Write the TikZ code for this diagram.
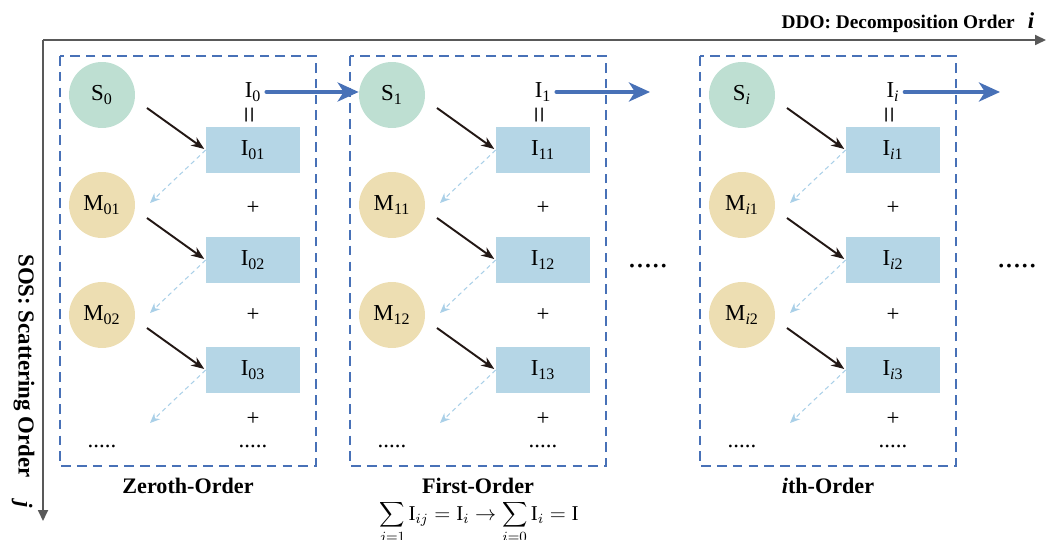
\documentclass[tikz,border=0pt]{standalone}
\usepackage{fontspec}
\usepackage{graphicx}
\setmainfont{Liberation Serif}
\usetikzlibrary{arrows.meta,calc,positioning}
\definecolor{AxisGray}{RGB}{89,89,89}
\definecolor{FrameBlue}{RGB}{72,113,183}
\definecolor{SourceGreen}{RGB}{190,223,210}
\definecolor{MedSand}{RGB}{237,222,178}
\definecolor{TermBlue}{RGB}{181,214,230}
\definecolor{BackBlue}{RGB}{170,208,232}
\definecolor{PathBlack}{RGB}{35,24,21}
\newcommand{\dotrow}{.....}
\tikzset{
  lbl/.style={font=\fontsize{13}{15}\selectfont,inner sep=0pt},
  srcnode/.style={lbl,circle,fill=SourceGreen,minimum size=1.32cm},
  mednode/.style={lbl,circle,fill=MedSand,minimum size=1.32cm},
  termbox/.style={lbl,rectangle,fill=TermBlue,minimum width=1.88cm,minimum height=0.92cm},
  ordframe/.style={draw=FrameBlue,line width=1.4pt,dash pattern=on 5.5pt off 3.5pt},
  scatarrow/.style={-{Stealth[length=2.6mm,width=2mm]},line width=1.1pt,PathBlack,shorten >=1pt},
  backarrow/.style={-{Stealth[length=2mm,width=1.7mm]},BackBlue,line width=0.6pt,dash pattern=on 2.5pt off 2pt},
  passarrow/.style={-{Stealth[length=4.2mm,width=3.8mm,inset=1.2mm]},line width=2.8pt,FrameBlue,line cap=round},
  axisarrow/.style={-{Triangle[length=2.2mm,width=2mm]},line width=1pt,AxisGray},
  ordtitle/.style={font=\fontsize{12.6}{15}\selectfont\bfseries,inner sep=0pt}
}

\begin{document}
\begin{tikzpicture}[x=0.02cm,y=-0.02cm]
  \useasboundingbox (0,0) rectangle (1054,540);
  % axes
  \coordinate (origin) at (43,40);
  \coordinate (iend) at (1046,40);
  \coordinate (jend) at (43,521);
  \draw[axisarrow] (origin) -- (iend);
  \draw[axisarrow] (origin) -- (jend);
  \node[font=\fontsize{11}{13}\selectfont\bfseries,anchor=base east,inner sep=0pt] (ddo) at (1015,29) {DDO: Decomposition Order};
  \node[font=\fontsize{13}{15}\selectfont\bfseries\itshape,anchor=base,inner sep=0pt] (iaxis) at (1031,29) {i};
  \node[font=\fontsize{13}{15}\selectfont\bfseries,rotate=-90,inner sep=0pt] (sos) at (24,366) {SOS: Scattering Order};
  \node[font=\fontsize{13}{15}\selectfont\bfseries\itshape,rotate=-90,inner sep=0pt] (jaxis) at (22,505) {j};

  % one column per decomposition order
  \foreach \dx/\k/\ttl [count=\c] in {0/0/Zeroth, 290/1/First, 640/\textit{i}/\textit{i}th}{
    \begin{scope}[shift={(\dx,0)}]
      \draw[ordframe] (60,56) rectangle (316,466);
      \node[srcnode] (src\c) at (102,95) {S\textsubscript{\k}};
      \node[mednode] (med\c1) at (102,205) {M\textsubscript{\k1}};
      \node[mednode] (med\c2) at (102,315) {M\textsubscript{\k2}};
      \node[lbl] (tot\c) at (253,92) {I\textsubscript{\k}};
      \node[lbl,font=\fontsize{17}{17}\selectfont] (eq\c) at (253,115) {\rotatebox{90}{=}};
      \foreach \r/\y in {1/150,2/260,3/370}
        \node[termbox] (term\c\r) at (253,\y) {I\textsubscript{\k\r}};
      \foreach \r/\y in {1/208,2/315,3/419}
        \node[lbl] (plus\c\r) at (253,\y) {+};
      \node[lbl] (mdots\c) at (102,446) {\dotrow};
      \node[lbl] (tdots\c) at (253,446) {\dotrow};
      \node[ordtitle] (title\c) at (188,486) {\ttl-Order};
      \coordinate (next\c) at (150,423);
      \draw[scatarrow] ($(src\c)+(45,13)$) -- (term\c1.west);
      \draw[scatarrow] ($(med\c1)+(45,13)$) -- (term\c2.west);
      \draw[scatarrow] ($(med\c2)+(45,13)$) -- (term\c3.west);
      \draw[backarrow] (term\c1.west) -- ($(med\c1)+(48,-2)$);
      \draw[backarrow] (term\c2.west) -- ($(med\c2)+(48,-2)$);
      \draw[backarrow] (term\c3.west) -- (next\c);
    \end{scope}
  }

  % passing on to the next order
  \coordinate (out2) at (650,92);
  \coordinate (out3) at (1000,92);
  \draw[passarrow,shorten <=3pt] (tot1.east) -- (tot1.east -| src2.west);
  \draw[passarrow,shorten <=3pt] (tot2.east) -- (tot2.east -| out2);
  \draw[passarrow,shorten <=3pt] (tot3.east) -- (tot3.east -| out3);
  \node[lbl,font=\fontsize{18}{20}\selectfont] (gap1) at (648,266) {\dotrow};
  \node[lbl,font=\fontsize{18}{20}\selectfont] (gap2) at (1017,266) {\dotrow};

  \node[font=\fontsize{12}{14}\selectfont,anchor=base,inner sep=0pt] (rule) at (479,520)
    {$\displaystyle\sum_{j=1}\mathrm{I}_{ij}=\mathrm{I}_i\rightarrow\sum_{i=0}\mathrm{I}_i=\mathrm{I}$};
\end{tikzpicture}
\end{document}
